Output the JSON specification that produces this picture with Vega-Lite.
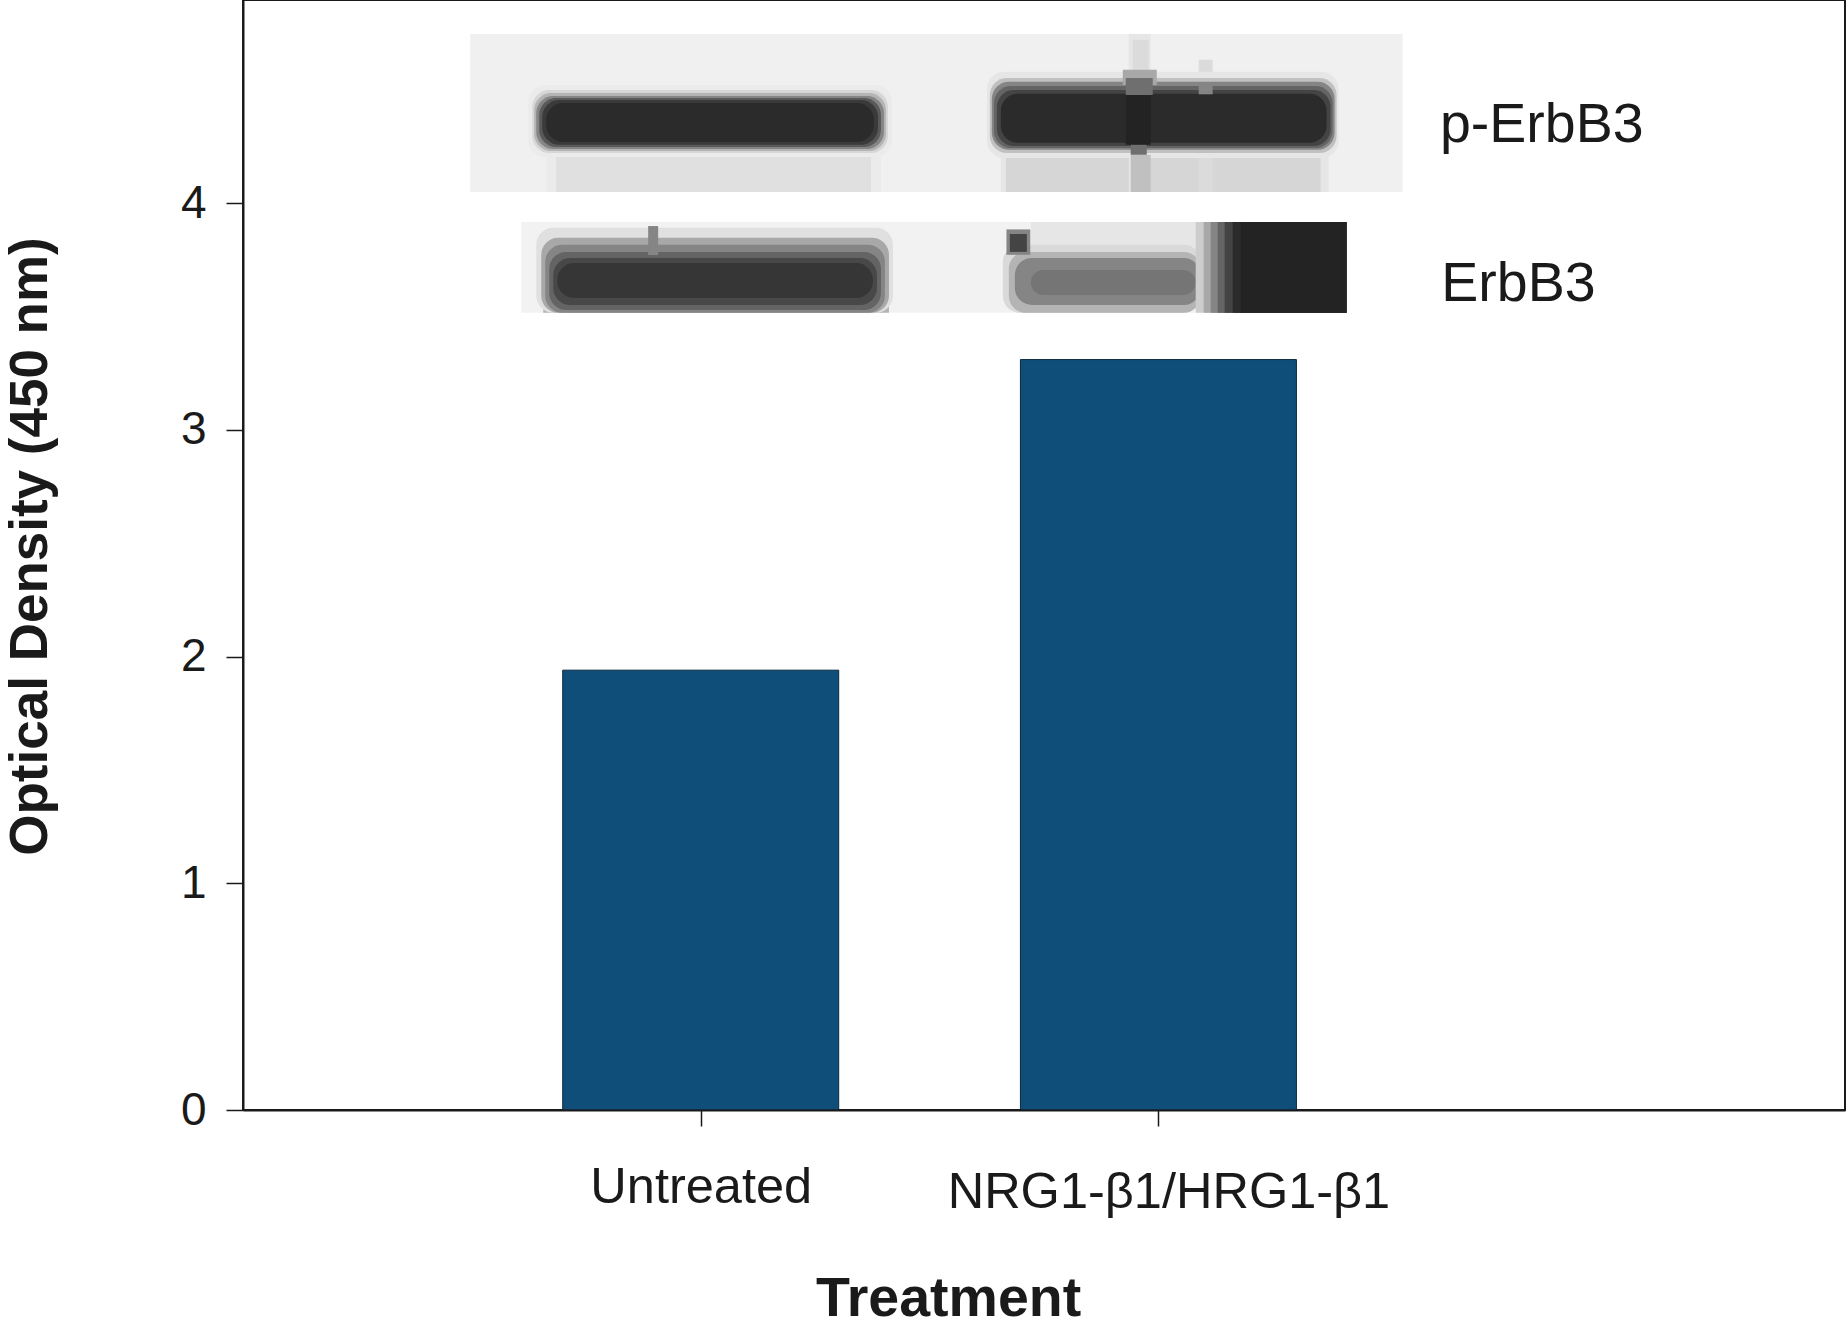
{
  "$schema": "https://vega.github.io/schema/vega-lite/v6.json",
  "description": "Optical density of p-ErbB3 by treatment, with western blot bands above the bars",
  "width": 1602,
  "height": 1110,
  "autosize": "none",
  "padding": {"left": 243, "top": 0, "right": 1, "bottom": 218},
  "background": "white",
  "config": {
    "font": "Liberation Sans",
    "view": {"stroke": "#1a1a1a", "strokeWidth": 2}
  },
  "datasets": {
    "bars": [
      {"position": 1, "treatment": "Untreated", "density": 1.94},
      {"position": 2, "treatment": "NRG1-β1/HRG1-β1", "density": 3.31}
    ],
    "blot_base": [
      {"x": 0.4966, "x2": 2.5333, "y": 4.049, "y2": 4.746, "shade": 0.06},
      {"x": 0.6625, "x2": 1.3938, "y": 4.049, "y2": 4.243, "shade": 0.08},
      {"x": 0.6843, "x2": 1.372, "y": 4.049, "y2": 4.243, "shade": 0.12},
      {"x": 1.6557, "x2": 2.3718, "y": 4.049, "y2": 4.243, "shade": 0.1},
      {"x": 1.6667, "x2": 2.3543, "y": 4.049, "y2": 4.243, "shade": 0.16},
      {"x": 1.9352, "x2": 1.9832, "y": 4.049, "y2": 4.746, "shade": 0.1},
      {"x": 2.088, "x2": 2.1185, "y": 4.049, "y2": 4.632, "shade": 0.14},
      {"x": 0.6079, "x2": 2.411, "y": 3.516, "y2": 3.917, "shade": 0.05},
      {"x": 1.7212, "x2": 2.0923, "y": 3.794, "y2": 3.917, "shade": 0.1},
      {"x": 0.656, "x2": 1.4113, "y": 3.516, "y2": 3.617, "shade": 0.3}
    ],
    "blot_bands": [
      {"x": 0.6232, "x2": 1.4178, "y": 4.204, "y2": 4.521, "shade": 0.08},
      {"x": 0.632, "x2": 1.4091, "y": 4.221, "y2": 4.499, "shade": 0.16},
      {"x": 0.6363, "x2": 1.4047, "y": 4.23, "y2": 4.486, "shade": 0.3},
      {"x": 0.6407, "x2": 1.4003, "y": 4.239, "y2": 4.473, "shade": 0.5},
      {"x": 0.6472, "x2": 1.3938, "y": 4.248, "y2": 4.464, "shade": 0.7},
      {"x": 0.6538, "x2": 1.3873, "y": 4.257, "y2": 4.455, "shade": 0.85},
      {"x": 0.6625, "x2": 1.3785, "y": 4.27, "y2": 4.442, "shade": 0.93},
      {"x": 1.6252, "x2": 2.3936, "y": 4.199, "y2": 4.579, "shade": 0.1},
      {"x": 1.6317, "x2": 2.3892, "y": 4.221, "y2": 4.552, "shade": 0.25},
      {"x": 1.6361, "x2": 2.3849, "y": 4.235, "y2": 4.535, "shade": 0.5},
      {"x": 1.6405, "x2": 2.3805, "y": 4.243, "y2": 4.517, "shade": 0.65},
      {"x": 1.647, "x2": 2.3761, "y": 4.252, "y2": 4.499, "shade": 0.8},
      {"x": 1.6557, "x2": 2.3674, "y": 4.266, "y2": 4.482, "shade": 0.93},
      {"x": 0.6407, "x2": 1.42, "y": 3.516, "y2": 3.891, "shade": 0.12},
      {"x": 0.6516, "x2": 1.4113, "y": 3.516, "y2": 3.847, "shade": 0.35},
      {"x": 0.6603, "x2": 1.4025, "y": 3.516, "y2": 3.816, "shade": 0.5},
      {"x": 0.6691, "x2": 1.3938, "y": 3.529, "y2": 3.785, "shade": 0.65},
      {"x": 0.6778, "x2": 1.3851, "y": 3.551, "y2": 3.758, "shade": 0.78},
      {"x": 0.6865, "x2": 1.3763, "y": 3.582, "y2": 3.736, "shade": 0.87},
      {"x": 1.6601, "x2": 2.0923, "y": 3.516, "y2": 3.816, "shade": 0.15},
      {"x": 1.6732, "x2": 2.0923, "y": 3.516, "y2": 3.785, "shade": 0.3},
      {"x": 1.6863, "x2": 2.0923, "y": 3.551, "y2": 3.758, "shade": 0.5},
      {"x": 1.7212, "x2": 2.0814, "y": 3.595, "y2": 3.705, "shade": 0.57}
    ],
    "blot_top": [
      {"x": 1.9439, "x2": 1.9788, "y": 4.588, "y2": 4.72, "shade": 0.14},
      {"x": 1.9221, "x2": 1.9963, "y": 4.521, "y2": 4.588, "shade": 0.35},
      {"x": 1.9286, "x2": 1.9876, "y": 4.477, "y2": 4.552, "shade": 0.6},
      {"x": 1.9286, "x2": 1.9832, "y": 4.257, "y2": 4.477, "shade": 0.97},
      {"x": 1.9395, "x2": 1.9745, "y": 4.213, "y2": 4.257, "shade": 0.6},
      {"x": 1.9395, "x2": 1.9832, "y": 4.049, "y2": 4.213, "shade": 0.25},
      {"x": 2.088, "x2": 2.1185, "y": 4.48, "y2": 4.53, "shade": 0.5},
      {"x": 0.8852, "x2": 0.907, "y": 3.771, "y2": 3.899, "shade": 0.5},
      {"x": 1.668, "x2": 1.72, "y": 3.772, "y2": 3.884, "shade": 0.5},
      {"x": 1.6754, "x2": 1.7125, "y": 3.785, "y2": 3.864, "shade": 0.8},
      {"x": 2.0814, "x2": 2.411, "y": 3.516, "y2": 3.917, "shade": 0.2},
      {"x": 2.0989, "x2": 2.411, "y": 3.516, "y2": 3.917, "shade": 0.35},
      {"x": 2.1142, "x2": 2.411, "y": 3.516, "y2": 3.917, "shade": 0.5},
      {"x": 2.1295, "x2": 2.411, "y": 3.516, "y2": 3.917, "shade": 0.65},
      {"x": 2.1447, "x2": 2.411, "y": 3.516, "y2": 3.917, "shade": 0.8},
      {"x": 2.1622, "x2": 2.411, "y": 3.516, "y2": 3.917, "shade": 0.93},
      {"x": 2.1797, "x2": 2.411, "y": 3.516, "y2": 3.917, "shade": 0.97}
    ],
    "blot_names": [
      {"x": 2.615, "y": 4.271, "name": "p-ErbB3"},
      {"x": 2.618, "y": 3.57, "name": "ErbB3"}
    ]
  },
  "layer": [
    {
      "data": {"name": "bars"},
      "mark": {"type": "bar", "width": 276, "color": "#104e7a", "stroke": "#0a2a40", "strokeWidth": 1},
      "encoding": {
        "x": {
          "field": "position",
          "type": "quantitative",
          "scale": {"domain": [0, 3.5], "nice": false, "zero": false, "padding": 0},
          "axis": {
            "title": "Treatment",
            "values": [1, 2],
            "grid": false,
            "zindex": 1,
            "labelExpr": "datum.value == 1 ? 'Untreated' : 'NRG1-β1/HRG1-β1'",
            "labelFontSize": 50.5,
            "labelColor": "#1a1a1a",
            "labelBaseline": "alphabetic",
            "labelPadding": {"expr": "datum.value == 2 ? 81 : 76"},
            "labelOffset": {"expr": "datum.value == 2 ? 10 : 0"},
            "labelLimit": 0,
            "labelOverlap": false,
            "labelFlush": false,
            "labelBound": false,
            "tickSize": 16,
            "tickWidth": 1.5,
            "tickColor": "#1a1a1a",
            "domainColor": "#1a1a1a",
            "domainWidth": 2,
            "titleFontSize": 55.5,
            "titleFontWeight": "bold",
            "titleColor": "#1a1a1a",
            "titleBaseline": "alphabetic",
            "titleX": 705,
            "titleY": 205
          }
        },
        "y": {
          "field": "density",
          "type": "quantitative",
          "scale": {"domain": [0, 4.896], "nice": false},
          "axis": {
            "title": "Optical Density (450 nm)",
            "values": [0, 1, 2, 3, 4],
            "grid": false,
            "zindex": 1,
            "format": "d",
            "labelFontSize": 46,
            "labelColor": "#1a1a1a",
            "labelPadding": 20,
            "labelFlush": false,
            "labelBound": false,
            "tickSize": 17,
            "tickWidth": 1.5,
            "tickColor": "#1a1a1a",
            "domainColor": "#1a1a1a",
            "domainWidth": 2,
            "titleFontSize": 53,
            "titleFontWeight": "bold",
            "titleColor": "#1a1a1a",
            "titleBaseline": "alphabetic",
            "titleX": -197,
            "titleY": 546
          }
        }
      }
    },
    {
      "data": {"name": "blot_base"},
      "mark": {"type": "rect"},
      "encoding": {
        "x": {"field": "x", "type": "quantitative"},
        "x2": {"field": "x2"},
        "y": {"field": "y", "type": "quantitative"},
        "y2": {"field": "y2"},
        "color": {
          "field": "shade",
          "type": "quantitative",
          "scale": {"domain": [0, 1], "range": ["#ffffff", "#1e1e1e"]},
          "legend": null
        }
      }
    },
    {
      "data": {"name": "blot_bands"},
      "mark": {"type": "rect", "cornerRadius": 17},
      "encoding": {
        "x": {"field": "x", "type": "quantitative"},
        "x2": {"field": "x2"},
        "y": {"field": "y", "type": "quantitative"},
        "y2": {"field": "y2"},
        "color": {"field": "shade", "type": "quantitative", "legend": null}
      }
    },
    {
      "data": {"name": "blot_top"},
      "mark": {"type": "rect"},
      "encoding": {
        "x": {"field": "x", "type": "quantitative"},
        "x2": {"field": "x2"},
        "y": {"field": "y", "type": "quantitative"},
        "y2": {"field": "y2"},
        "color": {"field": "shade", "type": "quantitative", "legend": null}
      }
    },
    {
      "data": {"name": "blot_names"},
      "mark": {"type": "text", "align": "left", "baseline": "alphabetic", "fontSize": 55.5, "color": "#1a1a1a"},
      "encoding": {
        "x": {"field": "x", "type": "quantitative"},
        "y": {"field": "y", "type": "quantitative"},
        "text": {"field": "name"}
      }
    }
  ]
}
